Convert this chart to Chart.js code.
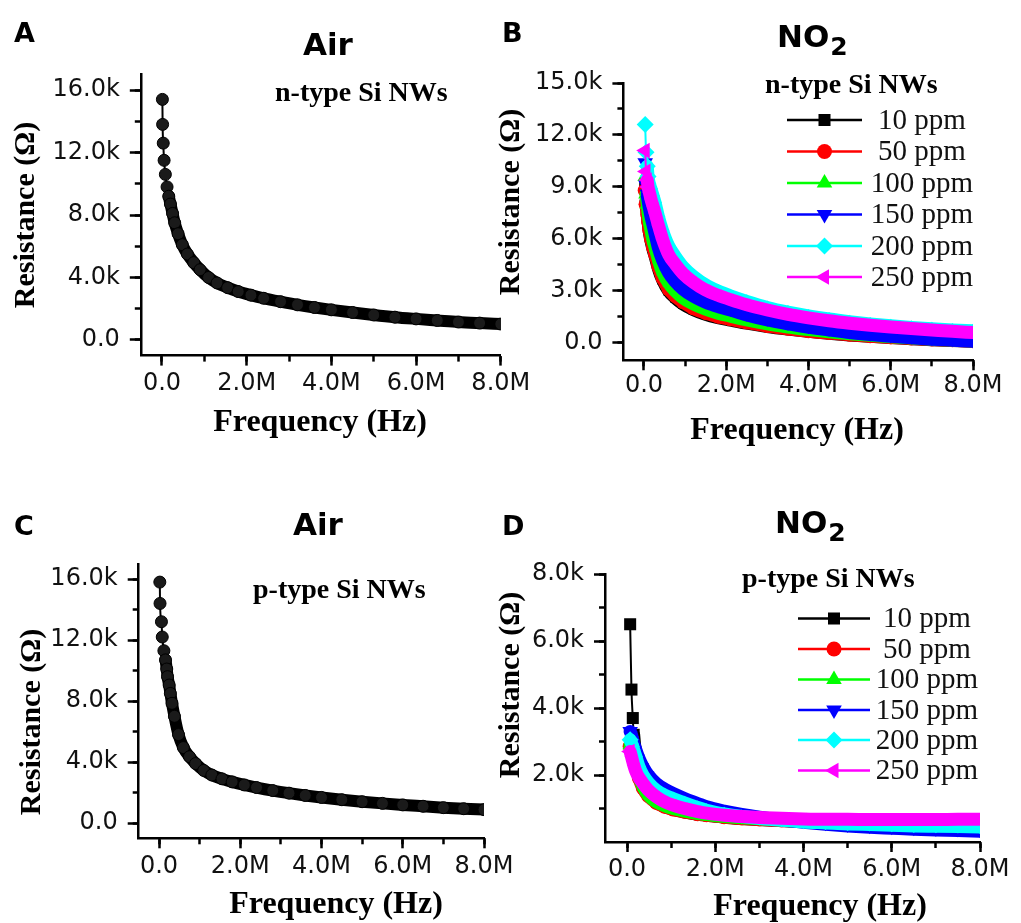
<!DOCTYPE html>
<html lang="en">
<head>
<meta charset="UTF-8"/>
<title>Resistance vs frequency of Si NWs in air and NO2</title>
<script src="https://cdn.jsdelivr.net/npm/chart.js@4.4.1/dist/chart.umd.min.js"></script>
<style>
  * { margin: 0; padding: 0; box-sizing: border-box; }
  body { background: #fff; width: 1021px; height: 923px; position: relative; overflow: hidden; }
  canvas { position: absolute; }
</style>
</head>
<body>

<canvas id="panelA" width="545" height="460" style="left:0px;top:0px"></canvas>
<canvas id="panelB" width="531" height="460" style="left:490px;top:0px"></canvas>
<canvas id="panelC" width="545" height="453" style="left:0px;top:470px"></canvas>
<canvas id="panelD" width="531" height="453" style="left:490px;top:470px"></canvas>

<script>
// ---- data (frequency in MHz, resistance in kOhm) ----
const freqA = [0.01, 0.015, 0.03, 0.05, 0.08, 0.12, 0.16, 0.2, 0.25, 0.3, 0.38, 0.48, 0.6, 0.75, 0.9, 1.1, 1.3, 1.55, 1.8, 2.1, 2.4, 2.8, 3.2, 3.6, 4.0, 4.5, 5.0, 5.5, 6.0, 6.5, 7.0, 7.5, 8.0];
const resA  = [15.4, 13.8, 12.6, 11.5, 10.6, 9.8, 9.2, 8.7, 8.1, 7.5, 6.8, 6.1, 5.5, 4.95, 4.5, 4.0, 3.65, 3.35, 3.1, 2.87, 2.67, 2.45, 2.25, 2.08, 1.93, 1.76, 1.6, 1.46, 1.35, 1.25, 1.15, 1.08, 1.02];

const freqC = [0.02, 0.025, 0.06, 0.08, 0.12, 0.16, 0.19, 0.21, 0.25, 0.28, 0.32, 0.38, 0.48, 0.6, 0.75, 0.9, 1.1, 1.3, 1.55, 1.8, 2.1, 2.4, 2.8, 3.2, 3.6, 4.0, 4.5, 5.0, 5.5, 6.0, 6.5, 7.0, 7.5, 8.0];
const resC  = [15.8, 14.4, 13.2, 12.2, 11.3, 10.7, 10.1, 9.6, 9.05, 8.5, 7.85, 7.0, 5.8, 4.95, 4.35, 3.9, 3.45, 3.15, 2.9, 2.7, 2.5, 2.33, 2.13, 1.96, 1.81, 1.68, 1.53, 1.40, 1.29, 1.19, 1.1, 1.01, 0.94, 0.88];

const freqB = [0.03, 0.05, 0.08, 0.1, 0.13, 0.17, 0.22, 0.27, 0.35, 0.45, 0.6, 0.76, 0.95, 1.2, 1.5, 1.8, 2.1, 2.5, 3.0, 3.5, 4.0, 4.5, 5.0, 5.5, 6.0, 6.5, 7.0, 7.5, 8.0];
const resB10  = [9.1, 8.2, 7.5, 7.0, 6.4, 5.9, 5.4, 5.0, 4.3, 3.65, 3.0, 2.6, 2.25, 1.93, 1.65, 1.46, 1.32, 1.14, 0.95, 0.8, 0.67, 0.56, 0.46, 0.38, 0.31, 0.25, 0.19, 0.14, 0.1];
const resB50  = [8.8, 8.0, 7.4, 7.0, 6.5, 6.0, 5.5, 5.1, 4.4, 3.75, 3.1, 2.7, 2.35, 2.0, 1.72, 1.52, 1.37, 1.18, 0.98, 0.82, 0.68, 0.57, 0.47, 0.39, 0.32, 0.26, 0.2, 0.15, 0.1];
const resB100 = [9.6, 8.6, 8.0, 7.5, 7.0, 6.5, 5.9, 5.5, 4.8, 4.1, 3.45, 3.0, 2.6, 2.25, 1.95, 1.72, 1.55, 1.33, 1.1, 0.92, 0.77, 0.64, 0.53, 0.44, 0.36, 0.29, 0.22, 0.17, 0.12];
const resB150 = [10.4, 9.1, 8.6, 8.2, 7.8, 7.3, 6.8, 6.3, 5.5, 4.8, 4.05, 3.55, 3.1, 2.7, 2.35, 2.1, 1.9, 1.62, 1.33, 1.1, 0.9, 0.75, 0.6, 0.48, 0.38, 0.3, 0.22, 0.16, 0.1];
const resB200 = [12.6, 11.0, 10.2, 9.6, 9.2, 8.9, 8.5, 8.1, 7.3, 6.5, 5.6, 5.0, 4.4, 3.85, 3.35, 3.0, 2.72, 2.4, 2.05, 1.78, 1.56, 1.38, 1.23, 1.1, 0.99, 0.9, 0.82, 0.75, 0.7];
const resB250 = [11.1, 9.9, 9.4, 9.0, 8.7, 8.3, 7.9, 7.5, 6.8, 6.0, 5.1, 4.55, 4.0, 3.5, 3.05, 2.75, 2.5, 2.2, 1.9, 1.65, 1.45, 1.28, 1.14, 1.02, 0.92, 0.83, 0.75, 0.67, 0.6];

const freqD = [0.07, 0.1, 0.13, 0.15, 0.2, 0.27, 0.36, 0.48, 0.66, 0.85, 1.04, 1.3, 1.6, 1.8, 2.2, 2.6, 3.0, 3.5, 4.0, 4.5, 5.0, 5.5, 6.0, 6.5, 7.0, 7.5, 8.0];
const resD10  = [6.5, 4.55, 3.7, 3.2, 2.6, 2.1, 1.7, 1.42, 1.2, 1.06, 0.98, 0.9, 0.83, 0.8, 0.74, 0.7, 0.67, 0.64, 0.61, 0.59, 0.57, 0.55, 0.54, 0.53, 0.52, 0.51, 0.5];
const resD50  = [2.85, 2.7, 2.55, 2.45, 2.2, 1.9, 1.6, 1.37, 1.17, 1.05, 0.97, 0.9, 0.83, 0.8, 0.74, 0.7, 0.67, 0.64, 0.62, 0.6, 0.59, 0.58, 0.57, 0.56, 0.56, 0.55, 0.55];
const resD100 = [2.9, 2.75, 2.6, 2.5, 2.25, 1.95, 1.65, 1.4, 1.2, 1.08, 1.0, 0.92, 0.85, 0.82, 0.76, 0.72, 0.69, 0.66, 0.64, 0.62, 0.61, 0.6, 0.59, 0.58, 0.58, 0.57, 0.57];
const resD150 = [3.3, 3.2, 3.05, 2.95, 2.75, 2.5, 2.25, 2.0, 1.75, 1.58, 1.45, 1.3, 1.15, 1.05, 0.92, 0.82, 0.74, 0.66, 0.59, 0.53, 0.48, 0.44, 0.41, 0.38, 0.36, 0.34, 0.32];
const resD200 = [3.05, 2.95, 2.85, 2.75, 2.55, 2.25, 2.0, 1.78, 1.55, 1.4, 1.3, 1.17, 1.03, 0.95, 0.84, 0.76, 0.7, 0.65, 0.6, 0.57, 0.54, 0.52, 0.5, 0.48, 0.47, 0.46, 0.45];
const resD250 = [2.7, 2.55, 2.4, 2.3, 2.1, 1.92, 1.75, 1.55, 1.35, 1.2, 1.1, 1.0, 0.91, 0.86, 0.8, 0.76, 0.73, 0.71, 0.69, 0.68, 0.68, 0.67, 0.67, 0.67, 0.67, 0.68, 0.68];

const ppmLabels = ['10 ppm', '50 ppm', '100 ppm', '150 ppm', '200 ppm', '250 ppm'];

// tick values
const xMajor   = [0, 2, 4, 6, 8];
const xMinor   = [0, 1, 2, 3, 4, 5, 6, 7, 8];
const yMajorAC = [0, 4, 8, 12, 16];
const yMinorAC = [0, 2, 4, 6, 8, 10, 12, 14, 16];
const yMajorB  = [0, 3, 6, 9, 12, 15];
const yMinorB  = [0, 1.5, 3, 4.5, 6, 7.5, 9, 10.5, 12, 13.5, 15];
const yMajorD  = [2, 4, 6, 8];
const yMinorD  = [1, 2, 3, 4, 5, 6, 7, 8];

const X_TITLE = 'Frequency (Hz)';
const Y_TITLE = 'Resistance (Ω)';

// ---- styles ----
const ppmColors = ['#000000', '#ff0000', '#00ff00', '#0000ff', '#00ffff', '#ff00ff'];
const ppmShapes = ['rect', 'circle', 'triangle', 'triangle', 'rectRot', 'triangle'];
const ppmRotate = [0, 0, 0, 180, 0, -90];
const ppmRadius = [8.5, 7.5, 9, 9, 8.5, 9];

const TICK_FONT = { family: 'DejaVu Sans', size: 24 };

const fmt = unit => v => v === 0 ? '0.0' : v.toFixed(1) + unit;
const toPoints = (xs, ys) => xs.map((x, i) => ({ x, y: ys[i] }));

function band(label, xs, ys, style) {
  // thin connector for the first few sparse points, thick band after
  const thick = style.thick || 12;
  return {
    label,
    data: toPoints(xs, ys),
    xAxisID: 'x', yAxisID: 'y',
    borderColor: style.color,
    backgroundColor: style.fill || style.color,
    pointBorderColor: style.color,
    pointBorderWidth: style.pointBorder || 0,
    pointStyle: style.shape,
    pointRotation: style.rotate || 0,
    pointRadius: ctx => ctx.dataIndex < style.big ? style.radius : style.tailRadius,
    borderWidth: thick,
    borderCapStyle: 'round',
    borderJoinStyle: 'round',
    cubicInterpolationMode: 'monotone',
    segment: { borderWidth: ctx => ctx.p0DataIndex < style.thin ? 2 : thick },
    order: style.order || 0
  };
}

function ppmSets(xs, series, thin, big) {
  return series.map((ys, i) => band(ppmLabels[i], xs, ys, {
    color: ppmColors[i], shape: ppmShapes[i], rotate: ppmRotate[i],
    radius: ppmRadius[i], tailRadius: 7, thin: thin[i], big: big[i],
    thick: 13, order: 5 - i
  }));
}

// draws panel letters, titles, axis titles, inner labels and the custom legend
const panelText = {
  id: 'panelText',
  afterDraw(chart, args, opts) {
    const ctx = chart.ctx;
    const dx = opts.dx, dy = opts.dy;
    ctx.save();
    ctx.fillStyle = '#000';
    (opts.items || []).forEach(t => {
      ctx.save();
      ctx.font = t.font;
      ctx.textAlign = t.align || 'left';
      ctx.textBaseline = t.baseline || 'alphabetic';
      ctx.translate(t.x - dx, t.y - dy);
      if (t.rotate) ctx.rotate(t.rotate * Math.PI / 180);
      ctx.fillText(t.text, 0, 0);
      if (t.sub) {
        const w = ctx.measureText(t.text).width;
        ctx.font = t.subFont;
        ctx.fillText(t.sub, w + 1, 8);
      }
      ctx.restore();
    });
    const lg = opts.legend;
    if (lg) {
      chart.data.datasets.forEach((ds, i) => {
        const y = lg.rows[i] - dy;
        ctx.strokeStyle = ppmColors[i];
        ctx.lineWidth = 2.5;
        ctx.beginPath();
        ctx.moveTo(lg.x1 - dx, y);
        ctx.lineTo(lg.x2 - dx, y);
        ctx.stroke();
        ctx.fillStyle = ppmColors[i];
        Chart.helpers.drawPoint(ctx, {
          pointStyle: ppmShapes[i], rotation: ppmRotate[i], radius: ppmRadius[i], borderWidth: 0
        }, (lg.x1 + lg.x2) / 2 - dx, y);
        ctx.fillStyle = '#111';
        ctx.font = '29px "Liberation Serif"';
        ctx.textAlign = 'center';
        ctx.textBaseline = 'middle';
        ctx.fillText(ds.label, lg.textX - dx, y + 1);
      });
    }
    ctx.restore();
  }
};

function makePanel(id, p) {
  const tickSet = vals => s => { s.ticks = vals.map(v => ({ value: v })); };
  const XT = 'bold 32px "Liberation Serif"';
  const YT = 'bold 30px "Liberation Serif"';
  const texts = p.texts.concat([
    { text: X_TITLE, x: p.xTitle[0], y: p.xTitle[1], font: XT, align: 'center', baseline: 'middle' },
    { text: Y_TITLE, x: p.yTitle[0], y: p.yTitle[1], font: YT, align: 'center', baseline: 'middle', rotate: -90 }
  ]);
  new Chart(document.getElementById(id), {
    type: 'line',
    data: { datasets: p.datasets },
    options: {
      responsive: false,
      animation: false,
      events: [],
      layout: { padding: { left: 0, top: p.top, right: p.right, bottom: 0 } },
      plugins: {
        legend: { display: false },
        tooltip: { enabled: false },
        panelText: { dx: p.left, dy: p.pageTop, items: texts, legend: p.legend }
      },
      scales: {
        x: {
          type: 'linear', position: 'bottom', min: -0.5, max: 8, weight: 0,
          afterBuildTicks: tickSet(xMajor),
          afterFit: s => { s.height = p.xHeight; },
          ticks: { callback: fmt('M'), font: TICK_FONT, color: '#111', padding: p.xTickPad, maxRotation: 0, autoSkip: false },
          grid: { drawOnChartArea: false, tickLength: 10, tickWidth: 2.5, tickColor: '#000' },
          border: { display: true, color: '#000', width: 2.5 }
        },
        xm: {
          type: 'linear', position: 'bottom', min: -0.5, max: 8, weight: -1,
          afterBuildTicks: tickSet(xMinor),
          afterFit: s => { s.height = 0; },
          ticks: { display: false },
          grid: { drawOnChartArea: false, tickLength: 6, tickWidth: 2.5, tickColor: '#000' },
          border: { display: false }
        },
        y: {
          type: 'linear', position: 'left', min: p.yMin, max: p.yMax, weight: 1,
          afterBuildTicks: tickSet(p.yMajor),
          afterFit: s => { s.width = p.yWidth; },
          ticks: { callback: fmt('k'), font: TICK_FONT, color: '#111', padding: 10, autoSkip: false },
          grid: { drawOnChartArea: false, tickLength: 11, tickWidth: 2.5, tickColor: '#000' },
          border: { display: true, color: '#000', width: 2.5 }
        },
        ym: {
          type: 'linear', position: 'left', min: p.yMin, max: p.yMax, weight: -1,
          afterBuildTicks: tickSet(p.yMinor),
          afterFit: s => { s.width = 0; },
          ticks: { display: false },
          grid: { drawOnChartArea: false, tickLength: 6, tickWidth: 2.5, tickColor: '#000' },
          border: { display: false }
        }
      }
    },
    plugins: [panelText]
  });
}

const LETTER = 'bold 27px "DejaVu Sans"';
const TITLE  = 'bold 31px "DejaVu Sans"';
const SUB    = 'bold 25px "DejaVu Sans"';
const NOTE   = 'bold 28px "Liberation Serif"';

const airStyle = { color: '#000', fill: '#1a1a1a', shape: 'circle', radius: 6, tailRadius: 6, pointBorder: 1, thick: 12 };

// A: n-type, air
makePanel('panelA', {
  left: 0, pageTop: 0, top: 74.4, right: 44.2,
  yWidth: 140.8, xHeight: 104.4, xTickPad: 4,
  xTitle: [320, 423], yTitle: [26, 215],
  yMin: -1, yMax: 17, yMajor: yMajorAC, yMinor: yMinorAC,
  datasets: [band('Air', freqA, resA, Object.assign({ thin: 6, big: 40 }, airStyle))],
  texts: [
    { text: 'A', x: 14, y: 42, font: LETTER },
    { text: 'Air', x: 303, y: 55, font: TITLE },
    { text: 'n-type Si NWs', x: 275, y: 101, font: NOTE }
  ]
});

// B: n-type, NO2
makePanel('panelB', {
  left: 490, pageTop: 0, top: 83, right: 48,
  yWidth: 133.4, xHeight: 99.7, xTickPad: 1,
  xTitle: [797, 431], yTitle: [511, 202],
  yMin: -1, yMax: 15, yMajor: yMajorB, yMinor: yMinorB,
  datasets: ppmSets(freqB, [resB10, resB50, resB100, resB150, resB200, resB250], [1, 1, 1, 2, 2, 2], [2, 2, 3, 4, 4, 4]),
  texts: [
    { text: 'B', x: 502, y: 42, font: LETTER },
    { text: 'NO', sub: '2', x: 777, y: 47, font: TITLE, subFont: SUB },
    { text: 'n-type Si NWs', x: 765, y: 93, font: NOTE }
  ],
  legend: { rows: [120, 151.5, 183, 214.5, 246, 277], x1: 787, x2: 862, textX: 922 }
});

// C: p-type, air
makePanel('panelC', {
  left: 0, pageTop: 470, top: 93.8, right: 61,
  yWidth: 138.7, xHeight: 84.7, xTickPad: 4,
  xTitle: [336, 905], yTitle: [32, 722],
  yMin: -1, yMax: 17, yMajor: yMajorAC, yMinor: yMinorAC,
  datasets: [band('Air', freqC, resC, Object.assign({ thin: 5, big: 40 }, airStyle))],
  texts: [
    { text: 'C', x: 14, y: 535, font: LETTER },
    { text: 'Air', x: 293, y: 535, font: TITLE },
    { text: 'p-type Si NWs', x: 253, y: 598, font: NOTE }
  ]
});

// D: p-type, NO2
makePanel('panelD', {
  left: 490, pageTop: 470, top: 104, right: 41,
  yWidth: 115, xHeight: 81, xTickPad: 3,
  xTitle: [820, 907], yTitle: [511, 685],
  yMin: 0, yMax: 8, yMajor: yMajorD, yMinor: yMinorD,
  datasets: ppmSets(freqD, [resD10, resD50, resD100, resD150, resD200, resD250], [3, 0, 0, 0, 0, 0], [4, 1, 1, 1, 1, 1]),
  texts: [
    { text: 'D', x: 502, y: 535, font: LETTER },
    { text: 'NO', sub: '2', x: 775, y: 533, font: TITLE, subFont: SUB },
    { text: 'p-type Si NWs', x: 742, y: 587, font: NOTE }
  ],
  legend: { rows: [618.5, 649, 679.5, 710, 740, 770.5], x1: 798, x2: 870, textX: 927 }
});
</script>

</body>
</html>
